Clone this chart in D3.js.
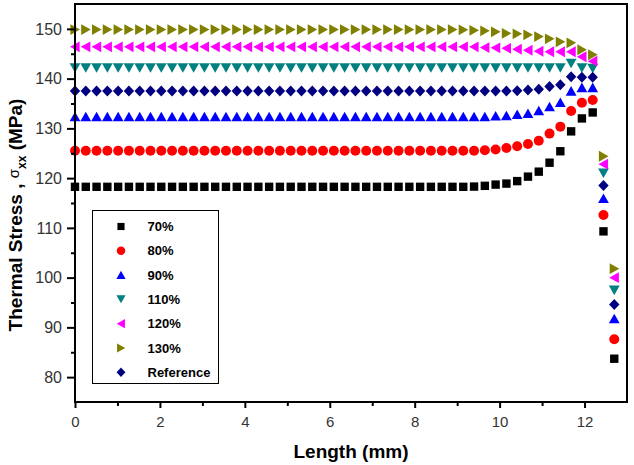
<!DOCTYPE html>
<html><head><meta charset="utf-8">
<script src="https://cdn.jsdelivr.net/npm/d3@7"></script>
<style>
html,body{margin:0;padding:0;background:#fff;}
svg{display:block;font-family:"Liberation Sans",Arial,sans-serif;}
</style></head>
<body><svg id="c" width="634" height="465"></svg>
<script>
const lengths = [0, 0.254, 0.508, 0.762, 1.016, 1.27, 1.524, 1.778, 2.032, 2.286,
  2.54, 2.794, 3.048, 3.302, 3.556, 3.81, 4.064, 4.318, 4.572, 4.826,
  5.08, 5.334, 5.588, 5.842, 6.096, 6.35, 6.604, 6.858, 7.112, 7.366,
  7.62, 7.874, 8.128, 8.382, 8.636, 8.89, 9.144, 9.398, 9.652, 9.906,
  10.16, 10.414, 10.668, 10.922, 11.176, 11.43, 11.684, 11.938, 12.192, 12.446,
  12.7];

const s70 = [118.25,118.25,118.25,118.25,118.25,118.25,118.25,118.25,118.25,118.25,
  118.25,118.25,118.25,118.25,118.25,118.25,118.25,118.25,118.25,118.25,
  118.25,118.25,118.25,118.25,118.25,118.25,118.25,118.25,118.25,118.25,
  118.25,118.25,118.25,118.25,118.25,118.25,118.25,118.3,118.45,118.7,
  118.9,119.4,120.3,121.3,123.1,125.4,129.4,132.0,133.2,109.3,
  83.7];
const s80 = [125.5,125.5,125.5,125.5,125.5,125.5,125.5,125.5,125.5,125.5,
  125.5,125.5,125.5,125.5,125.5,125.5,125.5,125.5,125.5,125.5,
  125.5,125.5,125.5,125.5,125.5,125.5,125.5,125.5,125.5,125.5,
  125.5,125.5,125.5,125.5,125.5,125.5,125.5,125.5,125.6,125.75,
  126.05,126.4,126.85,127.5,128.95,130.35,133.5,135.15,135.7,112.6,
  87.6];
const s90 = [132.35,132.35,132.35,132.35,132.35,132.35,132.35,132.35,132.35,132.35,
  132.35,132.35,132.35,132.35,132.35,132.35,132.35,132.35,132.35,132.35,
  132.35,132.35,132.35,132.35,132.35,132.35,132.35,132.35,132.35,132.35,
  132.35,132.35,132.35,132.35,132.35,132.35,132.35,132.35,132.35,132.5,
  132.55,132.8,133.0,133.55,134.35,135.2,137.5,138.2,138.2,115.9,
  91.75];
const s110 = [142.1,142.1,142.1,142.1,142.1,142.1,142.1,142.1,142.1,142.1,
  142.1,142.1,142.1,142.1,142.1,142.1,142.1,142.1,142.1,142.1,
  142.1,142.1,142.1,142.1,142.1,142.1,142.1,142.1,142.1,142.1,
  142.1,142.1,142.1,142.1,142.1,142.1,142.1,142.1,142.1,142.1,
  142.1,142.1,142.1,142.1,142.1,142.1,143.0,142.1,142.0,120.95,
  97.4];
const s120 = [146.4,146.4,146.4,146.4,146.4,146.4,146.4,146.4,146.4,146.4,
  146.4,146.4,146.4,146.4,146.4,146.4,146.4,146.4,146.4,146.4,
  146.4,146.4,146.4,146.4,146.4,146.4,146.4,146.4,146.4,146.4,
  146.4,146.4,146.4,146.4,146.4,146.4,146.4,146.4,146.25,146.2,
  146.1,145.9,145.7,145.5,145.4,145.4,145.4,144.4,143.5,122.8,
  100.0];
const s130 = [149.85,149.85,149.85,149.85,149.85,149.85,149.85,149.85,149.85,149.85,
  149.85,149.85,149.85,149.85,149.85,149.85,149.85,149.85,149.85,149.85,
  149.85,149.85,149.85,149.85,149.85,149.85,149.85,149.85,149.85,149.85,
  149.85,149.85,149.85,149.85,149.85,149.85,149.8,149.7,149.6,149.4,
  149.1,149.0,148.8,148.45,148.0,147.4,147.2,145.8,144.8,124.4,
  101.8];
const sRef = [137.5,137.5,137.5,137.5,137.5,137.5,137.5,137.5,137.5,137.5,
  137.5,137.5,137.5,137.5,137.5,137.5,137.5,137.5,137.5,137.5,
  137.5,137.5,137.5,137.5,137.5,137.5,137.5,137.5,137.5,137.5,
  137.5,137.5,137.5,137.5,137.5,137.5,137.5,137.5,137.5,137.5,
  137.5,137.55,137.7,137.85,138.4,138.75,140.4,140.3,140.3,118.5,
  94.6];

const seriesNames = ["70%", "80%", "90%", "110%", "120%", "130%", "Reference"];
const seriesColors = ["#000000", "#ff0000", "#0000ff", "#008080", "#ff00ff", "#808000", "#000080"];
const seriesShapes = ["square", "circle", "up", "down", "left", "right", "diamond"];
const seriesValues = [s70, s80, s90, s110, s120, s130, sRef];

const xMajorTicks = [0, 2, 4, 6, 8, 10, 12];
const xMinorTicks = [1, 3, 5, 7, 9, 11];
const yMajorTicks = [80, 90, 100, 110, 120, 130, 140, 150];
const yMinorTicks = [85, 95, 105, 115, 125, 135, 145];

const L = 75, R = 627, T = 4, B = 402;
const svg = d3.select("#c");
const x = d3.scaleLinear().domain([0, 13]).range([L, R]);
const y = d3.scaleLinear().domain([75, 155]).range([B, T]);

const shapePath = {
  square: "M-4.2,-4.2H4.2V4.2H-4.2Z",
  circle: "M5,0A5,5 0 1,1 -5,0A5,5 0 1,1 5,0Z",
  up: "M0,-5L5.4,4.6L-5.4,4.6Z",
  down: "M0,4.6L5.4,-5L-5.4,-5Z",
  left: "M-5,0L4.6,-5.4L4.6,5.4Z",
  right: "M5,0L-4.6,-5.4L-4.6,5.4Z",
  diamond: "M0,-5.5L5.2,0L0,5.5L-5.2,0Z"
};

seriesValues.forEach((vals, si) => {
  svg.append("g").selectAll("path").data(vals).enter().append("path")
    .attr("d", shapePath[seriesShapes[si]])
    .attr("transform", (d, i) => `translate(${x(lengths[i])},${y(d)})`)
    .attr("fill", seriesColors[si]);
});

svg.append("rect").attr("x", L).attr("y", T).attr("width", R - L).attr("height", B - T)
  .attr("fill", "none").attr("stroke", "#000").attr("stroke-width", 2);

svg.append("g").attr("class", "yax").attr("transform", `translate(${L},0)`)
  .call(d3.axisLeft(y).tickValues(yMajorTicks).tickSize(8).tickPadding(5).tickFormat(d3.format("d")));
svg.append("g").attr("transform", `translate(${L},0)`)
  .call(d3.axisLeft(y).tickValues(yMinorTicks).tickSize(4).tickFormat(""));
svg.append("g").attr("class", "xax").attr("transform", `translate(0,${B})`)
  .call(d3.axisBottom(x).tickValues(xMajorTicks).tickSize(6).tickPadding(8).tickFormat(d3.format("d")));
svg.append("g").attr("transform", `translate(0,${B})`)
  .call(d3.axisBottom(x).tickValues(xMinorTicks).tickSize(4).tickFormat(""));
svg.selectAll(".domain").remove();
svg.selectAll(".tick line").attr("stroke", "#000").attr("stroke-width", 2);
svg.selectAll(".tick text").attr("fill", "#333")
  .attr("font-family", "'Liberation Sans',Arial,sans-serif");
svg.selectAll(".yax .tick text").attr("font-size", 16);
svg.selectAll(".xax .tick text").attr("font-size", 15);

svg.append("text").attr("x", (L + R) / 2).attr("y", 458).attr("text-anchor", "middle")
  .attr("font-size", 19).attr("font-weight", "bold").text("Length (mm)");
const yt = svg.append("text").attr("transform", "translate(22,215) rotate(-90)")
  .attr("text-anchor", "middle").attr("font-size", 19).attr("font-weight", "bold");
yt.append("tspan").text("Thermal Stress , ");
yt.append("tspan").attr("font-weight", "normal").attr("font-size", 15).attr("dy", -3).text("σ");
yt.append("tspan").attr("font-size", 12).attr("dy", 7).text("xx");
yt.append("tspan").attr("dy", -4).text(" (MPa)");

const lg = svg.append("g");
lg.append("rect").attr("x", 92.5).attr("y", 210.5).attr("width", 126).attr("height", 173)
  .attr("fill", "#fff").attr("stroke", "#000").attr("stroke-width", 1);
seriesNames.forEach((name, si) => {
  const cy = 226.5 + si * 24.3;
  lg.append("path").attr("d", shapePath[seriesShapes[si]])
    .attr("transform", `translate(121,${cy}) scale(0.85)`).attr("fill", seriesColors[si]);
  lg.append("text").attr("x", 147.5).attr("y", cy + 4.5).attr("font-size", 13)
    .attr("font-weight", "bold").attr("fill", "#000").text(name);
});
</script></body></html>
